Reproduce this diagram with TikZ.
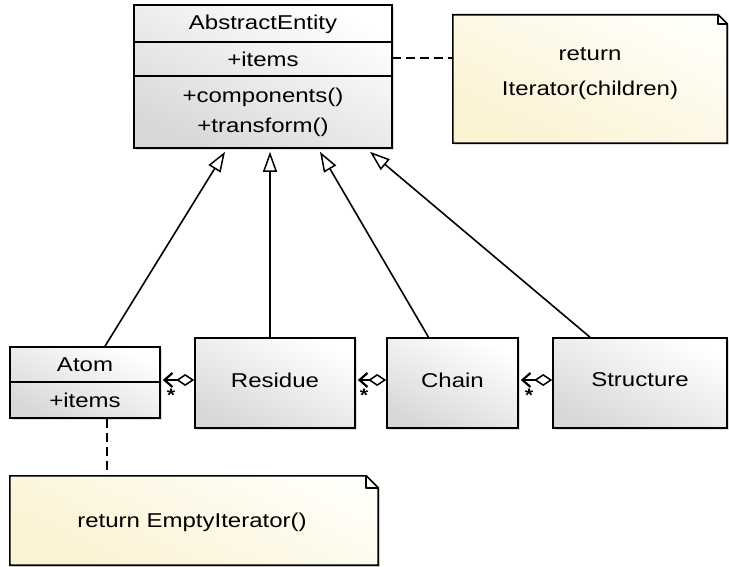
\documentclass[tikz,border=0pt]{standalone}
\usepackage{fontspec}
\setmainfont{Liberation Sans}[FakeStretch=1.2]
\usetikzlibrary{arrows.meta,shadows}

\definecolor{notetop}{HTML}{FFFEF8}
\definecolor{notebot}{HTML}{FBF2D2}
\definecolor{clsbot}{HTML}{D8D8D8}

\tikzset{
  ink/.style={line width=1.6pt, draw=black},
  shade cls/.style={top color=white, bottom color=clsbot, shading angle=-25},
  shade note/.style={top color=notetop, bottom color=notebot, shading angle=-25},
  soft shadow/.style={drop shadow={opacity=0.25, shadow xshift=1.5pt, shadow yshift=-2pt}},
  clsbox/.style={ink, shade cls, soft shadow, rectangle, inner sep=0pt},
  notearea/.style={rectangle, inner sep=0pt},
  lbl/.style={font=\fontsize{20}{24}\selectfont, inner sep=0pt},
  inherit/.style={ink, -{Triangle[open, length=20pt, width=14pt, line width=1.5pt]}},
  aggr/.style={ink, {Diamond[open, length=18pt, width=12pt, line width=1.5pt]}-{Straight Barb[length=8pt, width=14pt, line width=2.2pt]}},
  notelink/.style={ink, dashed, dash pattern=on 9pt off 5pt},
  mult/.style={font=\fontsize{18}{20}\selectfont\bfseries, inner sep=0pt}
}

\begin{document}
\begin{tikzpicture}[x=1pt, y=-1pt]
\useasboundingbox (0,0) rectangle (729,567);

% ---- AbstractEntity ----
\node[clsbox, minimum width=258pt, minimum height=143pt] (ae) at (263,76.5) {};
\draw[ink] (134,42) -- (392,42);
\draw[ink] (134,76) -- (392,76);
\node[lbl] (aename) at (263,24) {AbstractEntity};
\node[lbl] (aeitems) at (263,59) {+items};
\node[lbl] (aecomp) at (263,97) {+components()};
\node[lbl] (aetrans) at (263,127) {+transform()};
\coordinate (aelink) at (392,58);

% ---- note: Iterator(children) ----
\node[notearea, minimum width=274pt, minimum height=128pt] (n1) at (590,79) {};
\path[ink, shade note, soft shadow]
  (n1.north west) -- ([xshift=-9pt]n1.north east) -- ([yshift=-9pt]n1.north east)
  -- (n1.south east) -- (n1.south west) -- cycle;
\draw[ink, line join=round] ([xshift=-9pt]n1.north east) -- ([xshift=-9pt,yshift=-9pt]n1.north east) -- ([yshift=-9pt]n1.north east);
\node[lbl, align=center, font=\fontsize{20}{35}\selectfont] (n1txt) at (590,74) {return\\Iterator(children)};

% ---- Atom ----
\node[clsbox, minimum width=150pt, minimum height=71pt] (atom) at (85,382.5) {};
\draw[ink] (10,382) -- (160,382);
\node[lbl] (atomname) at (85,365) {Atom};
\node[lbl] (atomitems) at (85,400) {+items};

% ---- Residue, Chain, Structure ----
\node[clsbox, minimum width=160pt, minimum height=90pt] (res) at (275,383) {};
\node[lbl] (restxt) at (275,380) {Residue};
\node[clsbox, minimum width=131pt, minimum height=90pt] (chain) at (452.5,383) {};
\node[lbl] (chaintxt) at (452.5,380) {Chain};
\node[clsbox, minimum width=174pt, minimum height=90pt] (struct) at (640,383) {};
\node[lbl] (structtxt) at (640,380) {Structure};

% ---- note: EmptyIterator ----
\node[notearea, minimum width=368pt, minimum height=89pt] (n2) at (194,520.5) {};
\path[ink, shade note, soft shadow]
  (n2.north west) -- ([xshift=-12pt]n2.north east) -- ([yshift=-12pt]n2.north east)
  -- (n2.south east) -- (n2.south west) -- cycle;
\draw[ink, line join=round] ([xshift=-12pt]n2.north east) -- ([xshift=-12pt,yshift=-12pt]n2.north east) -- ([yshift=-12pt]n2.north east);
\node[lbl] (n2txt) at (192,522) {return EmptyIterator()};

% ---- generalisation ----
\draw[inherit] ([xshift=20pt]atom.north) -- ([xshift=-38pt,yshift=-3pt]ae.south);
\draw[inherit] ([xshift=-5pt]res.north) -- ([xshift=7pt,yshift=-3pt]ae.south);
\draw[inherit] ([xshift=-24pt]chain.north) -- ([xshift=57pt,yshift=-3pt]ae.south);
\draw[inherit] ([xshift=-50pt]struct.north) -- ([xshift=107pt,yshift=-3pt]ae.south);

% ---- aggregation ----
\draw[aggr] ([yshift=3pt]res.west) -- ([xshift=2pt,yshift=3pt]res.west -| atom.east);
\draw[aggr] ([yshift=3pt]chain.west) -- ([xshift=2pt,yshift=3pt]chain.west -| res.east);
\draw[aggr] ([yshift=3pt]struct.west) -- ([xshift=2pt,yshift=3pt]struct.west -| chain.east);
\node[mult] (m1) at (171,395) {*};
\node[mult] (m2) at (364,395) {*};
\node[mult] (m3) at (529,395) {*};

% ---- note links ----
\draw[notelink] (aelink) -- (aelink -| n1.west);
\draw[notelink] ([xshift=22pt]atom.south) -- ([xshift=22pt]atom.south |- n2.north);
\end{tikzpicture}
\end{document}
